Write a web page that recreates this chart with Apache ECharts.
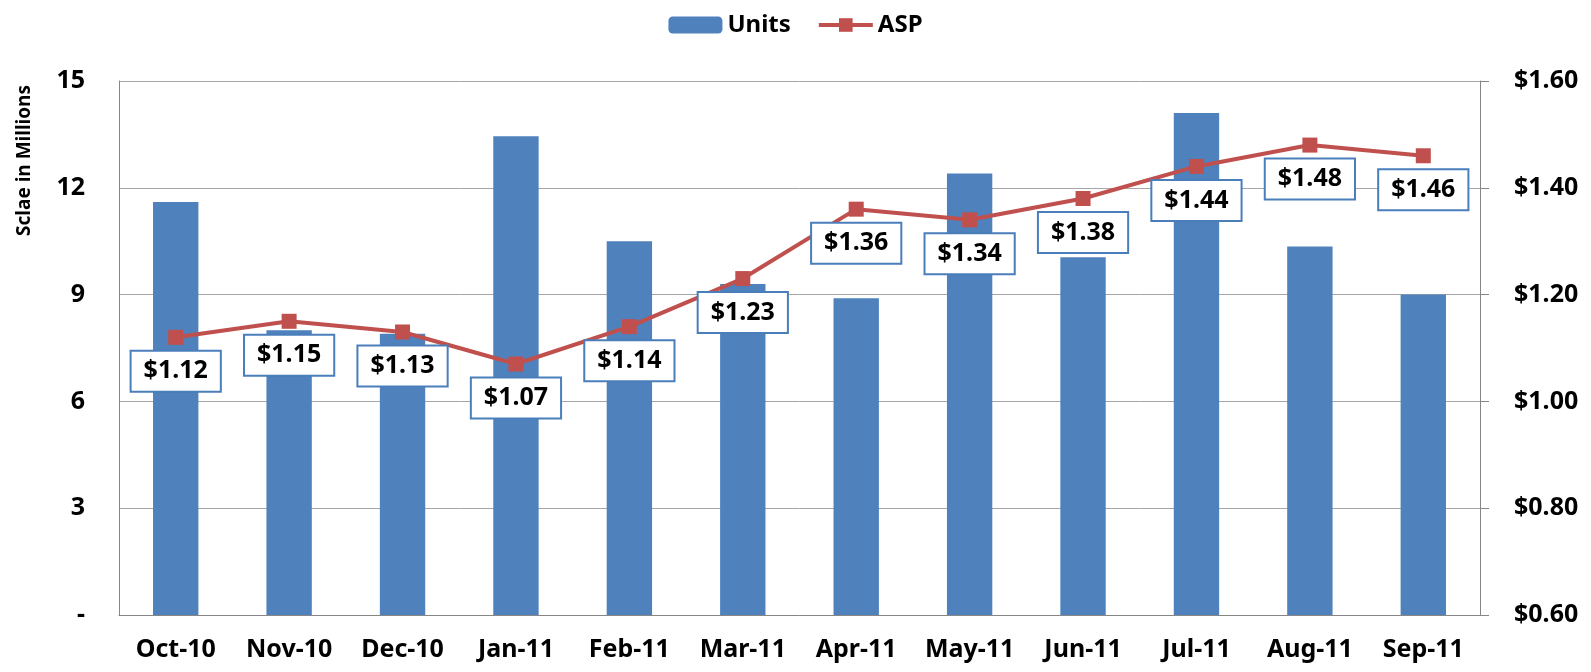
<!DOCTYPE html>
<html>
<head>
    <meta charset="utf-8">
    <title>Units and ASP</title>
    <script src="https://cdn.jsdelivr.net/npm/echarts@6/dist/echarts.min.js"></script>
    <style>
        html, body { margin: 0; padding: 0; background: #fff; }
        #main { width: 1591px; height: 672px; }
    </style>
</head>
<body>
<div id="main"></div>
<script>
    // data
    var months = ['Oct-10', 'Nov-10', 'Dec-10', 'Jan-11', 'Feb-11', 'Mar-11',
                  'Apr-11', 'May-11', 'Jun-11', 'Jul-11', 'Aug-11', 'Sep-11'];
    var units = [11.6, 8.0, 7.9, 13.45, 10.5, 9.3, 8.9, 12.4, 10.05, 14.1, 10.35, 9.0];
    var asp = [1.12, 1.15, 1.13, 1.07, 1.14, 1.23, 1.36, 1.34, 1.38, 1.44, 1.48, 1.46];

    var font = 'Noto Sans';
    var myChart = echarts.init(document.getElementById('main'));
    var option = {
        animation: false,
        textStyle: { fontFamily: font },
        legend: {
            top: 8,
            left: 'center',
            itemGap: 26,
            itemWidth: 54,
            itemHeight: 17,
            lineStyle: { width: 4 },
            textStyle: { fontSize: 24, fontWeight: 'bold', color: '#000', fontFamily: font },
            data: ['Units', 'ASP']
        },
        grid: { left: 119, right: 111, top: 81, bottom: 57 },
        graphic: [{
            type: 'text',
            left: 15,
            top: 85,
            rotation: Math.PI / 2,
            style: { text: 'Sclae in Millions', fontSize: 19, fontWeight: 'bold', fill: '#000', fontFamily: font }
        }],
        xAxis: {
            type: 'category',
            data: months,
            axisLine: { lineStyle: { color: '#868686', width: 1 } },
            axisTick: { show: false },
            axisLabel: { interval: 0, margin: 22, fontSize: 25, fontWeight: 'bold', color: '#000', fontFamily: font }
        },
        yAxis: [{
            type: 'value',
            min: 0, max: 15, interval: 3,
            axisLine: { show: true, lineStyle: { color: '#868686' } },
            axisTick: { show: false },
            splitLine: { lineStyle: { color: '#a6a6a6' } },
            axisLabel: {
                margin: 34, fontSize: 25, fontWeight: 'bold', color: '#000', fontFamily: font,
                formatter: function (v) { return v === 0 ? '-' : v; }
            }
        }, {
            type: 'value',
            min: 0.6, max: 1.6, interval: 0.2,
            position: 'right',
            axisLine: { show: true, lineStyle: { color: '#868686' } },
            axisTick: { show: true, length: 9, lineStyle: { color: '#868686' } },
            splitLine: { show: false },
            axisLabel: {
                margin: 34, fontSize: 25, fontWeight: 'bold', color: '#000', fontFamily: font,
                formatter: function (v) { return '$' + v.toFixed(2); }
            }
        }],
        series: [{
            name: 'Units',
            type: 'bar',
            data: units,
            barCategoryGap: '60%',
            itemStyle: { color: '#4f81bd' }
        }, {
            name: 'ASP',
            type: 'line',
            yAxisIndex: 1,
            data: asp,
            symbol: 'rect',
            symbolSize: 15,
            lineStyle: { color: '#c0504d', width: 4 },
            itemStyle: { color: '#c0504d' },
            label: {
                show: true,
                position: 'bottom',
                distance: 7,
                formatter: function (p) { return '$' + p.value.toFixed(2); },
                backgroundColor: '#fff',
                borderColor: '#4a7ebb',
                borderWidth: 2,
                padding: [7, 12],
                fontSize: 25,
                fontWeight: 'bold',
                color: '#000',
                fontFamily: font
            }
        }]
    };
    myChart.setOption(option);
</script>
</body>
</html>
